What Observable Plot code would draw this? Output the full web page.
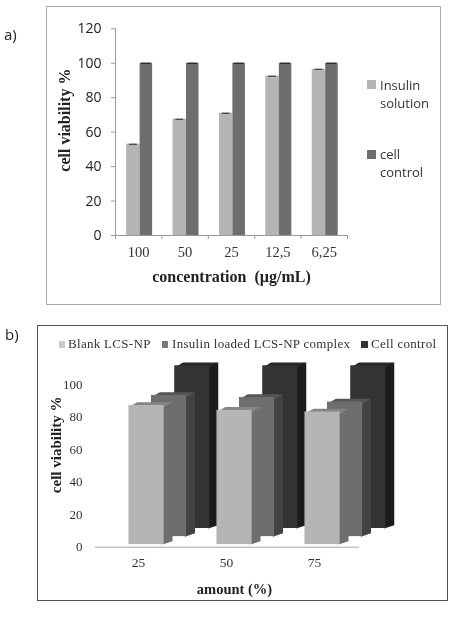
<!DOCTYPE html>
<html><head><meta charset="utf-8">
<script src="https://cdn.jsdelivr.net/npm/d3@7"></script>
<script src="https://cdn.jsdelivr.net/npm/@observablehq/plot@0.6"></script>
<style>
html,body{margin:0;background:#fff}
#page{position:relative;width:450px;height:623px;overflow:hidden;filter:blur(.45px)}
#page svg{position:absolute;left:0;background:transparent}
.box{position:absolute;box-sizing:border-box}
.lab{position:absolute;font-family:"Open Sans";color:#222}
.sw{position:absolute}
.leg{position:absolute;white-space:nowrap}
</style></head><body><div id="page"></div>
<script>
const SERIF = "Liberation Serif", SANS = "Open Sans";

// panel a
const concentrations = ["100","50","25","12,5","6,25"];
const insulinSolution = [53,67.5,71,92.5,96.5];
const cellControlA = [100,100,100,100,100];
const ticksA = [0,20,40,60,80,100,120];

// panel b
const amounts = ["25","50","75"];
const blankNP = [85.5,82.5,81.5];
const loadedNP = [86.8,85.5,82.7];
const cellControlB = [100,100,100];
const ticksB = [0,20,40,60,80,100];

const page = document.getElementById("page");
function box(l,t,w,h,color){const d=document.createElement("div");d.className="box";
  d.style.cssText=`left:${l}px;top:${t}px;width:${w}px;height:${h}px;border:1.3px solid ${color}`;page.append(d);}
function html(cls,l,t,text,css){const d=document.createElement("div");d.className=cls;
  d.style.cssText=`left:${l}px;top:${t}px;${css}`;d.textContent=text;page.append(d);}
function swatch(l,t,s,c){const d=document.createElement("div");d.className="sw";
  d.style.cssText=`left:${l}px;top:${t}px;width:${s}px;height:${s}px;background:${c}`;page.append(d);}

box(46,6,395,299,"#aaaaaa");
box(37,325,411,276,"#555555");
html("lab",4,24,"a)","font-size:15px");
html("lab",5,324,"b)","font-size:15px");

// ---------- chart a ----------
const lightA="#b5b5b5", darkA="#6e6e6e";
const indexA = concentrations.map((c,i)=>i);
const chartA = Plot.plot({
  width:450,height:310,marginLeft:115,marginRight:103,marginTop:28.3,marginBottom:75,
  style:{background:"transparent",overflow:"visible"},
  x:{domain:[0,5],axis:null},
  y:{domain:[0,120],axis:null},
  marks:[
    Plot.rectY(indexA,{x1:i=>i+0.24,x2:i=>i+0.53,y1:0,y2:i=>insulinSolution[i],fill:lightA}),
    Plot.rectY(indexA,{x1:i=>i+0.53,x2:i=>i+0.8,y1:0,y2:i=>cellControlA[i],fill:darkA}),
    Plot.ruleY(indexA,{x1:i=>i+0.3,x2:i=>i+0.47,y:i=>insulinSolution[i],stroke:"#222",strokeWidth:1}),
    Plot.ruleY(indexA,{x1:i=>i+0.56,x2:i=>i+0.77,y:i=>cellControlA[i],stroke:"#222",strokeWidth:1.2}),
    Plot.ruleX([0],{stroke:"#999"}),
    Plot.ruleY([0],{stroke:"#999"}),
    Plot.axisY({ticks:ticksA,tickSize:4,tickPadding:10,stroke:"#999",fontSize:14,fontFamily:SANS,fill:"#222",label:null}),
    Plot.axisX({ticks:d3.range(6),tickSize:4,stroke:"#999",tickFormat:()=>"",label:null}),
    Plot.text(concentrations,{x:(c,i)=>i+0.5,frameAnchor:"bottom",dy:21,fontFamily:SERIF,fontSize:14.5,fill:"#333",text:c=>c}),
    Plot.text(["concentration  (µg/mL)"],{frameAnchor:"bottom",dy:46,fontFamily:SERIF,fontWeight:"bold",fontSize:16,fill:"#222",text:d=>d}),
    Plot.text(["cell viability %"],{frameAnchor:"left",textAnchor:"middle",rotate:-90,dx:-51,dy:-12,fontFamily:SERIF,fontWeight:"bold",fontSize:16,fill:"#222",text:d=>d})
  ]
});
chartA.style.top="0px";
page.append(chartA);

const legA="font:13px/18px 'Open Sans';color:#333";
swatch(367,80,9,lightA);
html("leg",380,76,"Insulin",legA);
html("leg",380,94,"solution",legA);
swatch(367,150,9,darkA);
html("leg",380,145,"cell",legA);
html("leg",380,163,"control",legA);

// ---------- chart b (3-D look) ----------
const faces = [
  {values:cellControlB, start:0.90, width:0.40, lift:11.5, front:"#333333", side:"#1c1c1c", top:"#262626"},
  {values:loadedNP,     start:0.636,width:0.40, lift:6.5,  front:"#6e6e6e", side:"#424242", top:"#555555"},
  {values:blankNP,      start:0.38, width:0.40, lift:1.6,  front:"#b5b5b5", side:"#6e6e6e", top:"#858585"}
];
const depthX=0.095, depthY=2, overlap=0.02;
const barMarks = faces.flatMap(f=>{
  const idx = amounts.map((a,i)=>i);
  const sidePts = idx.flatMap(i=>{
    const x=i+f.start+f.width, y0=f.lift, y1=f.lift+f.values[i];
    return [[i,x-overlap,y0],[i,x+depthX,y0+depthY],[i,x+depthX,y1+depthY],[i,x-overlap,y1]];
  });
  const topPts = idx.flatMap(i=>{
    const x=i+f.start, y1=f.lift+f.values[i];
    return [[i,x,y1-1],[i,x+depthX,y1+depthY],[i,x+f.width+depthX,y1+depthY],[i,x+f.width,y1-1]];
  });
  return [
    Plot.line(sidePts,{x:d=>d[1],y:d=>d[2],z:d=>d[0],fill:f.side,stroke:"none",curve:"linear-closed"}),
    Plot.line(topPts,{x:d=>d[1],y:d=>d[2],z:d=>d[0],fill:f.top,stroke:"none",curve:"linear-closed"}),
    Plot.rectY(idx,{x1:i=>i+f.start,x2:i=>i+f.start+f.width,y1:f.lift,y2:i=>f.lift+f.values[i],fill:f.front})
  ];
});
const chartB = Plot.plot({
  width:450,height:623-310,marginLeft:95,marginRight:91,marginTop:384-310,marginBottom:623-546.7,
  style:{background:"transparent",overflow:"visible"},
  x:{domain:[0,3],axis:null},
  y:{domain:[0,100],axis:null},
  marks:[
    ...barMarks,
    Plot.ruleY([0],{stroke:"#c4c4c4",strokeWidth:1.5}),
    Plot.axisY({ticks:ticksB,tickSize:0,tickPadding:13,fontSize:13,fontFamily:SERIF,fill:"#333",label:null}),
    Plot.text(amounts,{x:(a,i)=>i+0.49,frameAnchor:"bottom",dy:20,fontFamily:SERIF,fontSize:13.5,fill:"#333",text:a=>a}),
    Plot.text(["amount (%)"],{frameAnchor:"bottom",dx:7,dy:47,fontFamily:SERIF,fontWeight:"bold",fontSize:14.5,fill:"#222",text:d=>d}),
    Plot.text(["cell viability %"],{frameAnchor:"left",textAnchor:"middle",rotate:-90,dx:-39,dy:-21,fontFamily:SERIF,fontWeight:"bold",fontSize:15,fill:"#222",text:d=>d})
  ]
});
chartB.style.top="310px";
page.append(chartB);

const legCss="font:13px/16px 'Liberation Serif';color:#333;letter-spacing:.3px";
swatch(58.5,341,6.5,"#c9c9c9"); html("leg",68,336,"Blank LCS-NP",legCss);
swatch(161.5,341,6.5,"#777777"); html("leg",172,336,"Insulin loaded LCS-NP complex",legCss);
swatch(361,341,6.5,"#333333"); html("leg",371,336,"Cell control",legCss);
</script></body></html>
